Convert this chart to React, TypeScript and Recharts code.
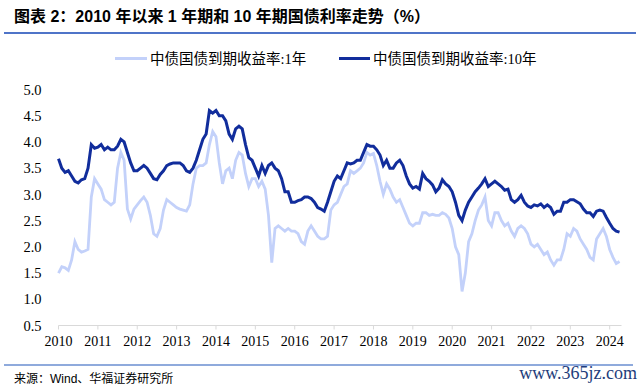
import React from "react";
import { LineChart, Line, XAxis, YAxis } from "recharts";

const years = [2010, 2011, 2012, 2013, 2014, 2015, 2016, 2017, 2018, 2019, 2020, 2021, 2022, 2023, 2024];
const yTicks = [0.5, 1.0, 1.5, 2.0, 2.5, 3.0, 3.5, 4.0, 4.5, 5.0];

// monthly values, Jan 2010 .. Apr 2024
const y1 = [
  1.5, 1.62, 1.6, 1.55, 1.75, 2.1, 1.95, 1.9, 1.92, 1.95, 2.95, 3.3,
  3.2, 3.1, 2.9, 2.85, 2.8, 2.85, 3.5, 3.8, 3.65, 2.72, 2.53, 2.72,
  2.8, 2.88, 2.95, 2.85, 2.6, 2.25, 2.2, 2.35, 2.7, 2.9, 2.85, 2.8,
  2.75, 2.72, 2.7, 2.68, 2.8, 3.2, 3.5, 3.55, 3.55, 3.6, 3.95, 4.2,
  4.1, 3.6, 3.2, 3.45, 3.5, 3.3, 3.65, 3.8, 3.75, 3.4, 3.15, 3.3,
  3.3, 3.15, 3.25, 3.1, 2.6, 1.7, 2.35, 2.4, 2.35, 2.3, 2.35, 2.3,
  2.3, 2.25, 2.1, 2.05, 2.3, 2.4, 2.3, 2.2, 2.15, 2.15, 2.2, 2.7,
  2.8, 2.85, 3.0, 3.15, 3.2, 3.45, 3.4, 3.45, 3.5, 3.6, 3.8, 3.75,
  3.78, 3.55, 3.25, 3.0, 3.2, 3.1, 2.95, 2.85, 2.9, 2.75, 2.6, 2.45,
  2.4, 2.45, 2.45, 2.65, 2.65, 2.6, 2.62, 2.6, 2.6, 2.65, 2.62, 2.55,
  2.35, 2.0, 1.85, 1.15, 1.5, 2.1, 2.25, 2.5, 2.7, 2.8, 2.95, 2.5,
  2.4, 2.65, 2.65, 2.5, 2.4, 2.45, 2.3, 2.2, 2.35, 2.4, 2.35, 2.25,
  2.05, 2.0, 2.05, 1.95, 1.85, 1.9, 1.75, 1.65, 1.75, 1.75, 1.95, 2.25,
  2.2, 2.35, 2.3, 2.15, 2.05, 1.95, 1.8, 1.75, 2.15, 2.25, 2.35, 2.2,
  1.95, 1.8, 1.68, 1.72,
];

const y10 = [
  3.68, 3.5, 3.42, 3.45, 3.35, 3.25, 3.22, 3.28, 3.3, 3.5, 3.95, 3.88,
  3.9, 3.95, 3.85, 3.9, 3.85, 3.85, 3.92, 4.05, 4.0, 3.8, 3.6, 3.45,
  3.45, 3.5, 3.55, 3.5, 3.4, 3.3, 3.28, 3.38, 3.45, 3.55, 3.58, 3.6,
  3.6, 3.6, 3.55, 3.45, 3.42, 3.5, 3.65, 3.85, 4.05, 4.15, 4.6, 4.55,
  4.6, 4.5, 4.5, 4.4, 4.15, 4.05, 4.25, 4.3, 4.25, 3.95, 3.7, 3.65,
  3.5, 3.35, 3.55, 3.4, 3.55, 3.6, 3.5, 3.45, 3.3, 3.05, 3.05, 2.85,
  2.85, 2.88, 2.9, 2.95, 2.95, 2.92, 2.85, 2.75, 2.72, 2.68, 2.85, 3.05,
  3.25, 3.35, 3.3, 3.45, 3.6, 3.58, 3.6, 3.65, 3.65, 3.8, 3.95, 3.92,
  3.92, 3.85, 3.75, 3.55, 3.65, 3.5, 3.5, 3.6, 3.65, 3.55, 3.35, 3.2,
  3.12, 3.15, 3.1, 3.4, 3.3, 3.25, 3.18, 3.05, 3.12, 3.28, 3.2, 3.15,
  3.05, 2.85, 2.6, 2.5, 2.7, 2.85, 2.95, 3.05, 3.12, 3.2, 3.3, 3.15,
  3.2, 3.25, 3.2, 3.15, 3.08, 3.1, 2.9, 2.85, 2.9, 2.98, 2.85, 2.78,
  2.75, 2.8, 2.78, 2.82, 2.75, 2.8, 2.75, 2.62, 2.68, 2.68, 2.85, 2.85,
  2.9, 2.9, 2.86, 2.82, 2.72, 2.65, 2.65, 2.58, 2.68, 2.7, 2.68, 2.56,
  2.45, 2.35, 2.3, 2.28,
];

const data = y1.map((v, i) => ({
  t: 2010 + i / 12,
  a: v,
  b: y10[i],
}));

const LIGHT = "#c3d1fa";
const DARK = "#112d9c";
const CJK = "'Liberation Sans', 'Noto Sans CJK SC', sans-serif";
const SERIF_CJK = "'Liberation Serif', 'Noto Sans CJK SC', serif";

export default function App() {
  return (
    <div
      style={{
        position: "absolute",
        left: 0,
        top: 0,
        width: 640,
        height: 389,
        background: "#fff",
        overflow: "hidden",
      }}
    >
      <div
        style={{
          position: "absolute",
          left: 14,
          top: 7,
          fontFamily: CJK,
          fontWeight: "bold",
          fontSize: 16,
          lineHeight: "20px",
          whiteSpace: "nowrap",
          color: "#000",
        }}
      >
        图表 2：2010 年以来 1 年期和 10 年期国债利率走势（%）
      </div>
      <div style={{ position: "absolute", left: 4, top: 32, width: 632, height: 1.5, background: "#4f74c8" }} />

      <div style={{ position: "absolute", left: 115, top: 57, width: 32, height: 3, background: LIGHT }} />
      <div
        style={{
          position: "absolute",
          left: 150,
          top: 49,
          fontFamily: SERIF_CJK,
          fontSize: 14.5,
          lineHeight: "20px",
          whiteSpace: "nowrap",
          color: "#000",
        }}
      >
        中债国债到期收益率:1年
      </div>
      <div style={{ position: "absolute", left: 339, top: 57, width: 31, height: 3, background: DARK }} />
      <div
        style={{
          position: "absolute",
          left: 373,
          top: 49,
          fontFamily: SERIF_CJK,
          fontSize: 14.5,
          lineHeight: "20px",
          whiteSpace: "nowrap",
          color: "#000",
        }}
      >
        中债国债到期收益率:10年
      </div>

      <div style={{ position: "absolute", left: 0, top: 0 }}>
        <LineChart
          width={640}
          height={389}
          data={data}
          margin={{ top: 89.5, right: 18.5, left: 0, bottom: 33.5 }}
        >
          <XAxis
            dataKey="t"
            type="number"
            domain={[2010, 2024.3]}
            ticks={years}
            interval={0}
            tickFormatter={(v: number) => String(Math.round(v))}
            height={30}
            axisLine={{ stroke: "#d9d9d9" }}
            tickLine={{ stroke: "#d9d9d9" }}
            tickSize={4}
            tickMargin={7}
            tick={{ fill: "#000", fontSize: 14, fontFamily: "'Liberation Serif', serif" }}
          />
          <YAxis
            type="number"
            domain={[0.5, 5]}
            ticks={yTicks}
            interval={0}
            width={58.5}
            axisLine={false}
            tickLine={false}
            tickSize={0}
            tickMargin={17}
            tickFormatter={(v: number) => v.toFixed(1)}
            tick={{ fill: "#000", fontSize: 14.5, fontFamily: "'Liberation Serif', serif" }}
          />
          <Line
            type="linear"
            dataKey="a"
            stroke={LIGHT}
            strokeWidth={2.8}
            dot={false}
            isAnimationActive={false}
          />
          <Line
            type="linear"
            dataKey="b"
            stroke={DARK}
            strokeWidth={3}
            dot={false}
            isAnimationActive={false}
          />
        </LineChart>
      </div>

      <div style={{ position: "absolute", left: 4, top: 364, width: 629, height: 1.5, background: "#8faadc" }} />
      <div
        style={{
          position: "absolute",
          left: 14,
          top: 371,
          fontFamily: CJK,
          fontSize: 12,
          lineHeight: "16px",
          whiteSpace: "nowrap",
          color: "#000",
        }}
      >
        来源：Wind、华福证券研究所
      </div>
      <div
        style={{
          position: "absolute",
          right: 3,
          top: 361,
          fontFamily: "'Liberation Serif', serif",
          fontSize: 18,
          lineHeight: "24px",
          whiteSpace: "nowrap",
          color: "#1e3d7b",
        }}
      >
        www.365jz.com
      </div>
    </div>
  );
}
